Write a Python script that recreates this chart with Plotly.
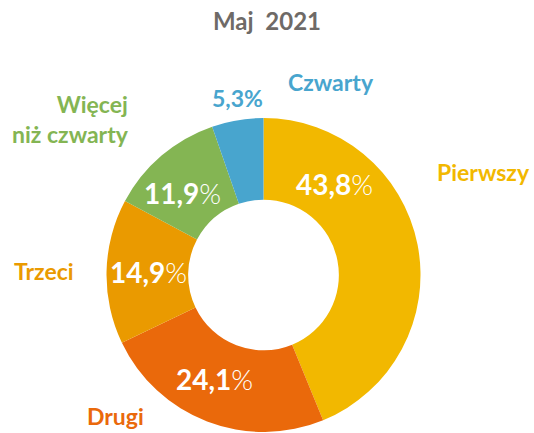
import numpy as np
import plotly.graph_objects as go

# Dane: kolejność zgodnie z ruchem wskazówek zegara od godziny 12
kategorie = ['Pierwszy', 'Drugi', 'Trzeci', 'Więcej<br>niż czwarty', 'Czwarty']
udzial = [43.8, 24.1, 14.9, 11.9, 5.3]
kolory = ['#F2B800', '#EA690B', '#EA9A00', '#84B553', '#48A5CE']

W, H = 534, 433
cx, cy, R = 263.5, 275, 157  # środek i promień pierścienia (px)

fig = go.Figure(go.Pie(
    labels=kategorie,
    values=udzial,
    marker=dict(colors=kolory, line=dict(width=0)),
    hole=0.48,
    sort=False,
    direction='clockwise',
    rotation=0,
    textinfo='none',
    hoverinfo='label+percent',
    showlegend=False,
    domain=dict(x=[(cx - R) / W, (cx + R) / W], y=[1 - (cy + R) / H, 1 - (cy - R) / H]),
))

def fmt(v):
    return f"{v:.1f}".replace('.', ',')

# etykiety wewnątrz pierścienia
frac = [0.24, 0.55, 0.5, 0.4, None]
start = 0.0
for kat, v, f in zip(kategorie, udzial, frac):
    span = v / sum(udzial) * 360
    if f is not None:
        a = np.radians(start + f * span)
        r = 0.735 * R
        x = (cx + r * np.sin(a)) / W
        y = 1 - (cy - r * np.cos(a)) / H
        fig.add_annotation(
            x=x, y=y, xref='paper', yref='paper', showarrow=False,
            xanchor='center', yanchor='middle',
            text=f"<b>{fmt(v)}</b><span style='font-weight:300'>%</span>",
            font=dict(family='Lato', size=28, color='white'),
        )
    start += span

# etykiety zewnętrzne
zewn = [
    (483, 172, 'center'),
    (115, 416, 'center'),
    (44, 271, 'center'),
    (131, 119, 'right'),
    (331, 82, 'center'),
]
for (px, py, al), kat, kol in zip(zewn, kategorie, kolory):
    xa = 'right' if al == 'right' else 'center'
    fig.add_annotation(
        x=px / W, y=1 - py / H, xref='paper', yref='paper', showarrow=False,
        text=f"<b>{kat}</b>", align=al, xanchor=xa, yanchor='middle',
        font=dict(family='Lato', size=23, color=kol),
    )

# procent dla najmniejszego wycinka (poza pierścieniem)
fig.add_annotation(
    x=237 / W, y=1 - 82 / H, xref='paper', yref='paper', showarrow=False,
    text=f"<b>{fmt(udzial[4])}%</b>",
    font=dict(family='Lato', size=23, color=kolory[4]),
)

fig.update_layout(
    width=W, height=H,
    margin=dict(l=0, r=0, t=0, b=0),
    paper_bgcolor='white',
    plot_bgcolor='white',
    title=dict(
        text='<b>Maj\u00a0 2021</b>',
        x=0.5, xanchor='center', y=1 - 22 / H, yanchor='middle',
        font=dict(family='Lato', size=24, color='#6E6A67'),
    ),
)

fig.write_html("out.html", config={'displayModeBar': False},
               post_script="document.body.style.margin='0';")
